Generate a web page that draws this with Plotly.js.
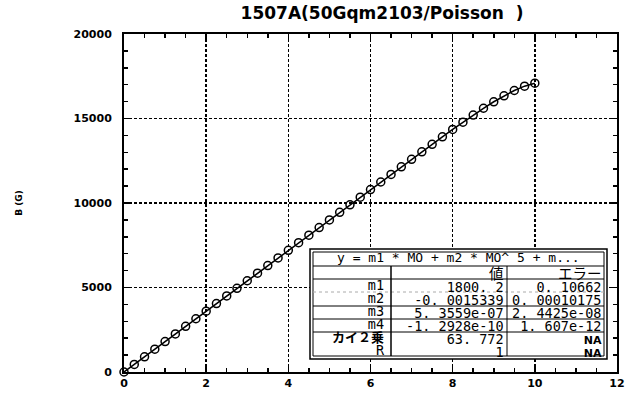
<!DOCTYPE html>
<html>
<head>
<meta charset="utf-8">
<script src="https://cdn.plot.ly/plotly-3.0.1.min.js"></script>
<style>
html,body{margin:0;padding:0;background:#fff;}
#chart{width:633px;height:399px;}
</style>
</head>
<body>
<div id="chart"></div>
<script>
// ---- data ----
var xValues = [0, 0.25, 0.5, 0.75, 1, 1.25, 1.5, 1.75, 2, 2.25, 2.5, 2.75, 3, 3.25, 3.5, 3.75,
  4, 4.25, 4.5, 4.75, 5, 5.25, 5.5, 5.75, 6, 6.25, 6.5, 6.75, 7, 7.25, 7.5, 7.75,
  8, 8.25, 8.5, 8.75, 9, 9.25, 9.5, 9.75, 10];
var bValues = [0, 450, 900, 1350, 1800, 2250, 2700, 3150, 3600, 4050, 4500, 4950, 5400, 5850, 6300, 6750,
  7199, 7649, 8098, 8548, 8997, 9446, 9895, 10344, 10793, 11242, 11690, 12138, 12585, 13031, 13475, 13916,
  14352, 14782, 15201, 15606, 15990, 16344, 16657, 16913, 17091];

var xTicks = [0, 2, 4, 6, 8, 10, 12];
var yTicks = [0, 5000, 10000, 15000, 20000];

var chartTitle = '1507A(50Gqm2103/Poisson\u00a0\u00a0)';
var yTitle = 'B (G)';

var fitEquation = 'y = m1 * MO + m2 * MO^ 5 + m...';
var tableHeaders = ['値', 'エラー'];
var tableLabels = ['m1', 'm2', 'm3', 'm4', 'カイ２乗', 'R'];
var tableValues = ['1800. 2', '-0. 0015339', '5. 3559e-07', '-1. 2928e-10', '63. 772', '1'];
var tableErrors = ['0. 10662', '0. 00010175', '2. 4425e-08', '1. 607e-12', 'NA', 'NA'];

// ---- layout helpers (pixel -> paper) ----
var L = 124, R = 617, T = 34, B = 372;
function PX(px){ return (px - L) / (R - L); }
function PY(py){ return (B - py) / (B - T); }

var shapes = [];
var annotations = [];
function rect(x0,y0,x1,y1,w,fill){
  shapes.push({type:'rect', xref:'paper', yref:'paper', x0:PX(x0), x1:PX(x1), y0:PY(y1), y1:PY(y0),
    line:{color:'#000', width:w}, fillcolor: fill || 'rgba(0,0,0,0)', layer:'above'});
}
function line(x0,y0,x1,y1,w,dash,color){
  shapes.push({type:'line', xref:'paper', yref:'paper', x0:PX(x0), x1:PX(x1), y0:PY(y0), y1:PY(y1),
    line:{color:color||'#000', width:w, dash:dash||'solid'}, layer:'above'});
}
// base font of 10px gives 13px line pitch; glyphs are enlarged with spans
var baseFont = {family:'DejaVu Sans Mono, Noto Sans CJK JP, monospace', size:10, color:'#000'};
function big(t){ return '<span style="font-size:13.5px">' + t + '</span>'; }
function jp(t, bold){ return '<span style="font-size:' + (bold ? 13 : 14.5) + 'px;font-family:Noto Sans CJK JP">' + (bold ? '<b>' + t + '</b>' : t) + '</span>'; }
function na(t){ return '<span style="font-size:11px;font-family:DejaVu Sans"><b>' + t + '</b></span>'; }
function cell(t){
  if (t === 'NA') return na(t);
  if (/[^\x00-\x7f]/.test(t)) return jp(t, true);
  return big(t);
}
function column(lines, xpx, ycenter, anchor){
  annotations.push({text:lines.join('<br>'), xref:'paper', yref:'paper', x:PX(xpx), y:PY(ycenter),
    xanchor:anchor, yanchor:'middle', align:anchor, borderpad:0, showarrow:false, font:baseFont});
}

// table geometry
var tx0 = 310, tx1 = 607, ty0 = 249, ty1 = 359;
var c1 = 391, c2 = 507;
rect(tx0, ty0, tx1, ty1, 1.5, '#fff');
rect(tx0+3, ty0+3, tx1-3, ty1-3, 1);
line(tx0+3, 266, tx1-3, 266, 1.2);
line(tx0+3, 279, tx1-3, 279, 1);
line(tx0+3, 292, tx1-3, 292, 1, 'dot', '#aaa');
line(tx0+3, 306, tx1-3, 306, 1);
line(tx0+3, 319, tx1-3, 319, 1);
line(tx0+3, 332, tx1-3, 332, 1);
line(c1, 266, c1, ty1-3, 1.5);
line(c2, 266, c2, ty1-3, 1);

annotations.push({text:fitEquation, xref:'paper', yref:'paper', x:PX((tx0+tx1)/2), y:PY(257),
  xanchor:'center', yanchor:'middle', borderpad:0, showarrow:false,
  font:{family:'DejaVu Sans Mono, monospace', size:13, color:'#000'}});

column(tableLabels.map(cell), 386, 317.5, 'right');
column([jp(tableHeaders[0])].concat(tableValues.map(cell)), 505, 310.5, 'right');
column([jp(tableHeaders[1])].concat(tableErrors.map(cell)), 603, 310.5, 'right');

var trace = {
  x: xValues, y: bValues, type:'scatter', mode:'lines+markers',
  line:{color:'#000', width:1.5},
  marker:{symbol:'circle-open', size:8, color:'#000', line:{width:1.5, color:'#000'}},
  cliponaxis:false, showlegend:false
};

var tickFont = {family:'DejaVu Sans, Arial', size:11, color:'#000', weight:700};

var layout = {
  width:633, height:399,
  margin:{l:L, r:633-R, t:T, b:399-B, pad:0},
  paper_bgcolor:'#fff', plot_bgcolor:'#fff',
  title:{text:chartTitle, font:{family:'DejaVu Sans, Arial', size:17, color:'#000', weight:700},
    xref:'container', x:382/633, xanchor:'center', yref:'container', y:1-13/399, yanchor:'middle'},
  xaxis:{range:[0,12], tickvals:xTicks, ticktext:xTicks.map(String), showgrid:true, gridcolor:'#000', gridwidth:1.5, griddash:'3px,2px',
    zeroline:false, showline:true, linecolor:'#000', linewidth:2, mirror:'allticks',
    ticks:'inside', ticklen:6, tickwidth:1.5, tickcolor:'#000', tickfont:tickFont,
    minor:{dtick:0.5, tick0:0, ticks:'inside', ticklen:4, tickwidth:1.5, tickcolor:'#000', showgrid:false},
    fixedrange:true},
  yaxis:{range:[0,20000], tickvals:yTicks, ticktext:yTicks.map(String), showgrid:true, gridcolor:'#000', gridwidth:1.5, griddash:'3px,2px',
    zeroline:false, showline:true, linecolor:'#000', linewidth:2, mirror:'allticks',
    ticks:'inside', ticklen:6, tickwidth:1.5, tickcolor:'#000', tickfont:tickFont, ticklabelstandoff:8,
    minor:{dtick:1000, tick0:0, ticks:'inside', ticklen:4, tickwidth:1.5, tickcolor:'#000', showgrid:false},
    title:{text:yTitle, font:{family:'DejaVu Sans, Arial', size:9, color:'#000', weight:700}, standoff:49},
    fixedrange:true},
  shapes:shapes,
  annotations:annotations
};

Plotly.newPlot('chart', [trace], layout, {displayModeBar:false, staticPlot:true});
</script>
</body>
</html>
